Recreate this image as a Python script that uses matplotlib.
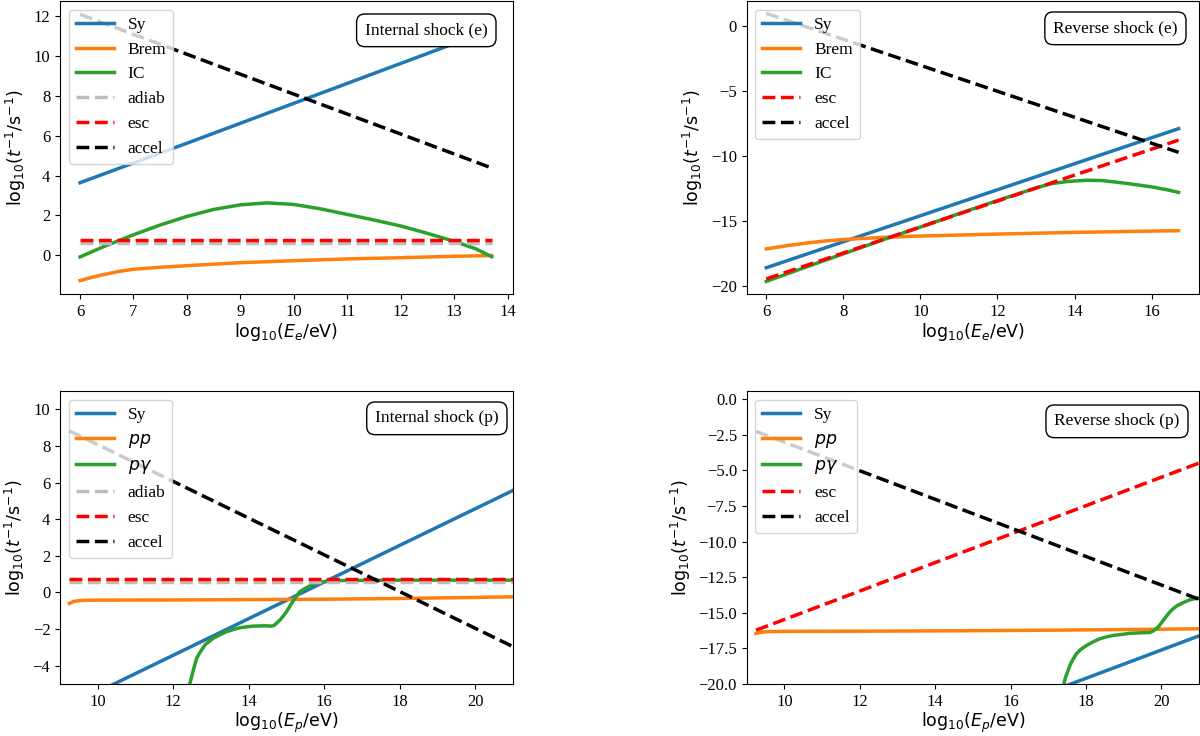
import matplotlib
matplotlib.use("Agg")
import matplotlib.pyplot as plt

# ---------------- data ----------------
# Panel 1: Internal shock (e)
e1_sy_x = [6, 8, 10, 12, 13.7]
e1_sy_y = [3.64, 5.62, 7.62, 9.62, 11.32]
e1_brem_x = [6, 6.2, 6.4, 6.7, 7, 7.5, 8, 9, 10, 11, 12, 13, 13.7]
e1_brem_y = [-1.27, -1.12, -0.99, -0.82, -0.70, -0.60, -0.52, -0.37, -0.27, -0.18, -0.12, -0.05, -0.01]
e1_ic_x = [6, 6.5, 7, 7.5, 8, 8.5, 9, 9.5, 10, 10.5, 11, 11.5, 12, 12.5, 13, 13.4, 13.7]
e1_ic_y = [-0.08, 0.50, 1.03, 1.52, 1.95, 2.30, 2.53, 2.63, 2.55, 2.33, 2.05, 1.77, 1.47, 1.10, 0.70, 0.33, -0.07]
e1_flat_x = [6, 13.7]
e1_adiab_y = [0.60, 0.60]
e1_esc_y = [0.77, 0.77]
e1_acc_x = [6, 13.7]
e1_acc_y = [12.08, 4.38]

# Panel 2: Reverse shock (e)
e2_sy_x = [6, 16.7]
e2_sy_y = [-18.6, -7.9]
e2_brem_x = [6, 6.5, 7, 7.5, 8, 9, 10, 12, 14, 16, 16.7]
e2_brem_y = [-17.15, -16.92, -16.72, -16.55, -16.43, -16.27, -16.16, -16.01, -15.88, -15.78, -15.75]
e2_ic_x = [6, 7, 8, 9, 10, 11, 12, 12.5, 13, 13.4, 13.8, 14.3, 14.7, 15.1, 15.5, 16, 16.4, 16.7]
e2_ic_y = [-19.65, -18.58, -17.53, -16.48, -15.47, -14.44, -13.43, -12.95, -12.45, -12.13, -11.97, -11.87,
           -11.89, -12.02, -12.17, -12.38, -12.6, -12.8]
e2_esc_x = [6, 16.7]
e2_esc_y = [-19.46, -8.78]
e2_acc_x = [6, 16.7]
e2_acc_y = [0.97, -9.72]

# Panel 3: Internal shock (p)
p1_sy_x = [9.25, 21]
p1_sy_y = [-6.18, 5.57]
p1_pp_x = [9.25, 9.35, 9.5, 9.7, 10, 12, 14, 16, 18, 20, 21]
p1_pp_y = [-0.60, -0.50, -0.45, -0.43, -0.42, -0.41, -0.39, -0.37, -0.33, -0.27, -0.24]
p1_pg_x = [12.38, 12.45, 12.55, 12.62, 12.7, 12.84, 12.95, 13.06, 13.2, 13.4, 13.6, 13.76, 14.1, 14.45,
           14.6, 14.67, 14.73, 14.82, 14.9, 15.0, 15.08, 15.15, 15.22, 15.35, 15.52, 15.7, 15.88, 16.14,
           16.5, 17, 18, 19, 20, 21]
p1_pg_y = [-5.3, -4.9, -4.1, -3.6, -3.3, -2.87, -2.68, -2.5, -2.35, -2.15, -2.02, -1.93, -1.84, -1.82,
           -1.84, -1.80, -1.69, -1.52, -1.33, -1.05, -0.78, -0.55, -0.33, 0.04, 0.25, 0.44, 0.55, 0.62,
           0.65, 0.66, 0.67, 0.67, 0.67, 0.67]
p1_flat_x = [9.25, 21]
p1_adiab_y = [0.56, 0.56]
p1_esc_y = [0.75, 0.75]
p1_acc_x = [9.25, 21]
p1_acc_y = [8.82, -2.96]

# Panel 4: Reverse shock (p)
p2_sy_x = [17.5, 21]
p2_sy_y = [-20.1, -16.62]
p2_pp_x = [9.25, 9.4, 9.6, 10, 12, 14, 16, 18, 20, 21]
p2_pp_y = [-16.45, -16.36, -16.32, -16.30, -16.29, -16.27, -16.24, -16.20, -16.15, -16.12]
p2_pg_x = [17.38, 17.41, 17.45, 17.5, 17.57, 17.65, 17.75, 17.85, 18.02, 18.2, 18.37, 18.5, 18.72, 19.0,
           19.17, 19.5, 19.7, 19.8, 19.92, 20.02, 20.12, 20.22, 20.32, 20.42, 20.53, 20.65, 20.78, 20.9, 21]
p2_pg_y = [-20.6, -20.09, -19.6, -19.25, -18.73, -18.3, -17.87, -17.6, -17.29, -17.03, -16.82, -16.72,
           -16.59, -16.5, -16.44, -16.40, -16.38, -16.25, -15.99, -15.65, -15.29, -14.96, -14.70, -14.50,
           -14.35, -14.2, -14.07, -14.0, -13.96]
p2_esc_x = [9.25, 21]
p2_esc_y = [-16.22, -4.48]
p2_acc_x = [9.25, 21]
p2_acc_y = [-2.26, -14.05]

# ---------------- style ----------------
SERIF = "Liberation Serif"
SANS = "DejaVu Sans"
plt.rcParams["mathtext.fontset"] = "dejavusans"

C_SY, C_BR, C_IC = "#1f77b4", "#ff7f0e", "#2ca02c"
C_AD = "#bdbdbd"
LW = 2.5

DPI = 100
fig = plt.figure(figsize=(12, 7.36), dpi=DPI)
W, H = 1200, 736


def add_ax(l, r, t, b):
    return fig.add_axes([l / W, (H - b) / H, (r - l) / W, (b - t) / H])


ax1 = add_ax(60, 513, 1, 294)
ax2 = add_ax(746.6, 1199, 1, 294)
ax3 = add_ax(60, 513, 391, 684)
ax4 = add_ax(746.6, 1199, 391, 684)

YLABEL = r"$\mathrm{log_{10}}(t^{-1}/\mathrm{s}^{-1})$"


def style(ax, xlabel, box_text, box_right, box_top, l, r, t, b):
    ax.set_xlabel(xlabel, fontsize=12.5, family=SANS, labelpad=1.0)
    ax.set_ylabel(YLABEL, fontsize=12.5, family=SANS)
    for lab in ax.get_xticklabels() + ax.get_yticklabels():
        lab.set_fontfamily(SERIF)
        lab.set_fontsize(12)
    leg = ax.legend(loc="upper left", prop={"family": [SERIF, SANS], "size": 12.5},
                    handlelength=2.2, labelspacing=0.5)
    leg.set_zorder(5)
    fs = 12.5
    pad = 0.48
    pad_px = pad * fs * DPI / 72.0
    xr = (box_right - pad_px - l) / (r - l)
    yt = (b - (box_top + pad_px)) / (b - t)
    ax.text(xr, yt, box_text, transform=ax.transAxes, ha="right", va="top",
            fontsize=fs, family=SERIF, zorder=6,
            bbox=dict(boxstyle=f"round,pad={pad}", facecolor="white", edgecolor="black", lw=1.0))


# Panel 1
ax1.plot(e1_sy_x, e1_sy_y, color=C_SY, lw=LW, label="Sy")
ax1.plot(e1_brem_x, e1_brem_y, color=C_BR, lw=LW, label="Brem")
ax1.plot(e1_ic_x, e1_ic_y, color=C_IC, lw=LW, label="IC")
ax1.plot(e1_flat_x, e1_adiab_y, color=C_AD, lw=LW, ls="--", label="adiab")
ax1.plot(e1_flat_x, e1_esc_y, color="red", lw=LW, ls="--", label="esc")
ax1.plot(e1_acc_x, e1_acc_y, color="black", lw=LW, ls="--", label="accel")
ax1.set_xlim(5.625, 14.1)
ax1.set_ylim(-1.94, 12.75)
ax1.set_xticks(range(6, 15))
style(ax1, r"$\mathrm{log_{10}}(E_e/\mathrm{eV})$", "Internal shock (e)", 496, 14, 60, 513, 1, 294)

# Panel 2
ax2.plot(e2_sy_x, e2_sy_y, color=C_SY, lw=LW, label="Sy")
ax2.plot(e2_brem_x, e2_brem_y, color=C_BR, lw=LW, label="Brem")
ax2.plot(e2_ic_x, e2_ic_y, color=C_IC, lw=LW, label="IC")
ax2.plot(e2_esc_x, e2_esc_y, color="red", lw=LW, ls="--", label="esc")
ax2.plot(e2_acc_x, e2_acc_y, color="black", lw=LW, ls="--", label="accel")
ax2.set_xlim(5.49, 17.23)
ax2.set_ylim(-20.62, 1.92)
style(ax2, r"$\mathrm{log_{10}}(E_e/\mathrm{eV})$", "Reverse shock (e)", 1186, 12, 746.6, 1199, 1, 294)

# Panel 3
ax3.plot(p1_sy_x, p1_sy_y, color=C_SY, lw=LW, label="Sy")
ax3.plot(p1_pp_x, p1_pp_y, color=C_BR, lw=LW, label=r"$pp$")
ax3.plot(p1_pg_x, p1_pg_y, color=C_IC, lw=LW, label=r"$p\gamma$")
ax3.plot(p1_flat_x, p1_adiab_y, color=C_AD, lw=LW, ls="--", label="adiab")
ax3.plot(p1_flat_x, p1_esc_y, color="red", lw=LW, ls="--", label="esc")
ax3.plot(p1_acc_x, p1_acc_y, color="black", lw=LW, ls="--", label="accel")
ax3.set_xlim(9, 21)
ax3.set_ylim(-5, 11)
style(ax3, r"$\mathrm{log_{10}}(E_p/\mathrm{eV})$", "Internal shock (p)", 507, 402, 60, 513, 391, 684)

# Panel 4
ax4.plot(p2_sy_x, p2_sy_y, color=C_SY, lw=LW, label="Sy")
ax4.plot(p2_pp_x, p2_pp_y, color=C_BR, lw=LW, label=r"$pp$")
ax4.plot(p2_pg_x, p2_pg_y, color=C_IC, lw=LW, label=r"$p\gamma$")
ax4.plot(p2_esc_x, p2_esc_y, color="red", lw=LW, ls="--", label="esc")
ax4.plot(p2_acc_x, p2_acc_y, color="black", lw=LW, ls="--", label="accel")
ax4.set_xlim(9, 21)
ax4.set_ylim(-20, 0.58)
style(ax4, r"$\mathrm{log_{10}}(E_p/\mathrm{eV})$", "Reverse shock (p)", 1188, 405, 746.6, 1199, 391, 684)

fig.savefig("out.png", dpi=DPI)
